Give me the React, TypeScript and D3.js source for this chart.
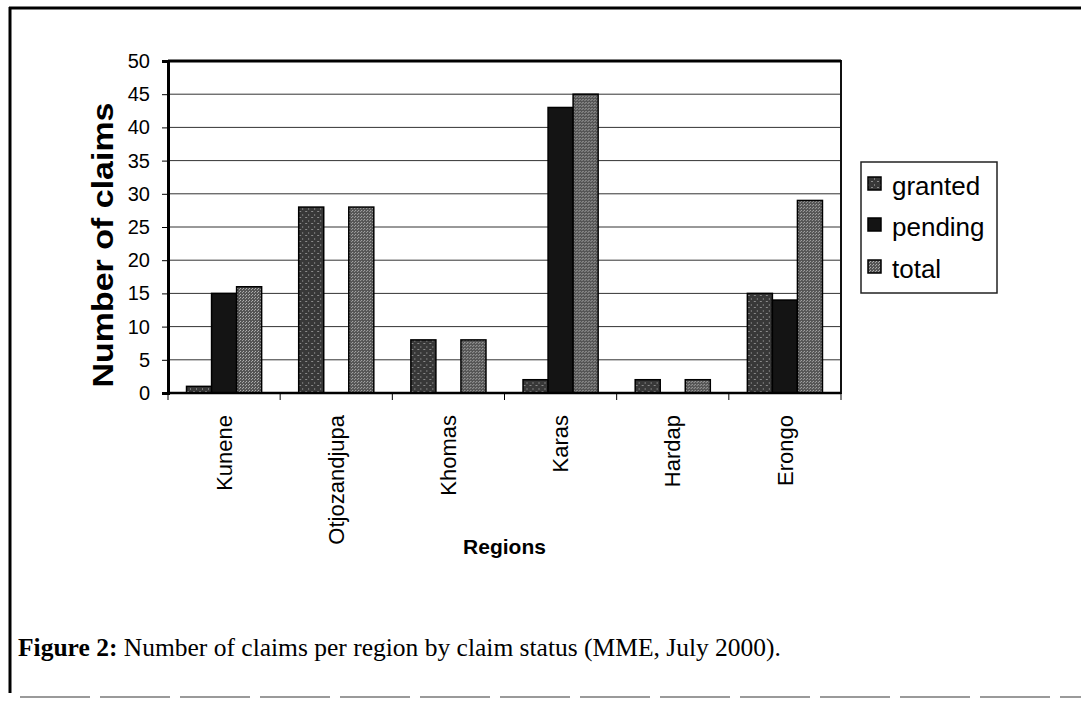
import React, { useRef, useEffect } from 'react';
import * as d3 from 'd3';

const regions = ['Kunene', 'Otjozandjupa', 'Khomas', 'Karas', 'Hardap', 'Erongo'];
const seriesNames = ['granted', 'pending', 'total'];
const granted = [1, 28, 8, 2, 2, 15];
const pending = [15, 0, 0, 43, 0, 14];
const total = [16, 28, 8, 45, 2, 29];
const yTicks = [0, 5, 10, 15, 20, 25, 30, 35, 40, 45, 50];

const SANS = '"Liberation Sans", Arial, sans-serif';
const SERIF = '"Liberation Serif", "Times New Roman", serif';

export default function App() {
  const svgRef = useRef<SVGSVGElement>(null);
  const width = 1081;
  const height = 703;
  const plot = { left: 168, right: 841, top: 61, bottom: 393 };

  useEffect(() => {
    const svg = d3.select(svgRef.current);
    svg.selectAll('*').remove();

    // fill patterns that imitate the scanned hatching
    const defs = svg.append('defs');
    const pg = defs.append('pattern').attr('id', 'pat-granted')
      .attr('width', 6).attr('height', 6).attr('patternUnits', 'userSpaceOnUse');
    pg.append('rect').attr('width', 6).attr('height', 6).attr('fill', '#383838');
    pg.append('rect').attr('x', 1).attr('y', 1).attr('width', 2).attr('height', 1).attr('fill', '#8a8a8a');
    pg.append('rect').attr('x', 4).attr('y', 4).attr('width', 1).attr('height', 2).attr('fill', '#777');

    const pt = defs.append('pattern').attr('id', 'pat-total')
      .attr('width', 3).attr('height', 3).attr('patternUnits', 'userSpaceOnUse');
    pt.append('rect').attr('width', 3).attr('height', 3).attr('fill', '#555');
    pt.append('rect').attr('x', 0).attr('y', 0).attr('width', 1).attr('height', 1).attr('fill', '#b0b0b0');
    pt.append('rect').attr('x', 2).attr('y', 1).attr('width', 1).attr('height', 1).attr('fill', '#a0a0a0');

    const fills: Record<string, string> = {
      granted: 'url(#pat-granted)',
      pending: '#141414',
      total: 'url(#pat-total)',
    };

    // page frame
    svg.append('line').attr('x1', 9).attr('x2', width).attr('y1', 8).attr('y2', 8)
      .attr('stroke', '#000').attr('stroke-width', 3);
    svg.append('line').attr('x1', 10).attr('x2', 10).attr('y1', 7).attr('y2', 693)
      .attr('stroke', '#000').attr('stroke-width', 3);
    svg.append('line').attr('x1', 20).attr('x2', width).attr('y1', 697).attr('y2', 697)
      .attr('stroke', '#9a9a9a').attr('stroke-width', 2).attr('stroke-dasharray', '70 10');

    const x0 = d3.scaleBand().domain(regions).range([plot.left, plot.right]);
    const x1 = d3.scaleBand().domain(seriesNames).range([0, x0.bandwidth()]).paddingOuter(0.74);
    const y = d3.scaleLinear().domain([0, 50]).range([plot.bottom, plot.top]);

    // gridlines
    svg.append('g').selectAll('line').data(yTicks.slice(1)).join('line')
      .attr('x1', plot.left).attr('x2', plot.right)
      .attr('y1', d => y(d)).attr('y2', d => y(d))
      .attr('stroke', '#333').attr('stroke-width', 1);

    // plot border
    svg.append('rect').attr('x', plot.left).attr('y', plot.top)
      .attr('width', plot.right - plot.left).attr('height', plot.bottom - plot.top)
      .attr('fill', 'none').attr('stroke', '#111').attr('stroke-width', 2);
    svg.append('line').attr('x1', plot.left).attr('x2', plot.right)
      .attr('y1', plot.top).attr('y2', plot.top).attr('stroke', '#000').attr('stroke-width', 3);

    // bars
    const rows = regions.map((r, i) => ({
      region: r,
      values: [
        { key: 'granted', value: granted[i] },
        { key: 'pending', value: pending[i] },
        { key: 'total', value: total[i] },
      ],
    }));

    svg.append('g').selectAll('g').data(rows).join('g')
      .attr('transform', d => `translate(${x0(d.region)},0)`)
      .selectAll('rect').data(d => d.values.filter(v => v.value > 0)).join('rect')
      .attr('x', d => x1(d.key) as number)
      .attr('width', x1.bandwidth())
      .attr('y', d => y(d.value))
      .attr('height', d => y(0) - y(d.value))
      .attr('fill', d => fills[d.key])
      .attr('stroke', '#000').attr('stroke-width', 1.5);

    // y axis
    svg.append('g')
      .attr('transform', `translate(${plot.left},0)`)
      .call(d3.axisLeft(y).tickValues(yTicks).tickSize(6).tickPadding(12))
      .call(g => g.select('.domain').attr('stroke', '#000').attr('stroke-width', 3))
      .call(g => g.selectAll('.tick line').attr('stroke', '#000'))
      .call(g => g.selectAll('.tick text')
        .attr('font-size', 20).attr('font-family', SANS).attr('fill', '#000'));

    // x axis
    svg.append('line').attr('x1', plot.left).attr('x2', plot.right)
      .attr('y1', plot.bottom).attr('y2', plot.bottom).attr('stroke', '#000').attr('stroke-width', 2.5);
    const boundaries = regions.map(r => x0(r) as number).concat([plot.right]);
    svg.append('g').selectAll('line').data(boundaries).join('line')
      .attr('x1', d => d).attr('x2', d => d)
      .attr('y1', plot.bottom).attr('y2', plot.bottom + 7)
      .attr('stroke', '#000').attr('stroke-width', 1);

    svg.append('g').selectAll('text').data(regions).join('text')
      .attr('transform', d => `translate(${(x0(d) as number) + x0.bandwidth() / 2},415) rotate(-90)`)
      .attr('text-anchor', 'end')
      .attr('dy', '0.35em')
      .attr('font-size', 22)
      .attr('font-family', SANS)
      .attr('fill', '#000')
      .text(d => d);

    // axis titles
    svg.append('text')
      .attr('x', (plot.left + plot.right) / 2).attr('y', 554)
      .attr('text-anchor', 'middle')
      .attr('font-size', 21).attr('font-weight', 'bold').attr('font-family', SANS)
      .text('Regions');

    svg.append('text')
      .attr('transform', 'translate(113,245) rotate(-90)')
      .attr('text-anchor', 'middle')
      .attr('font-size', 30).attr('font-weight', 'bold').attr('font-family', SANS)
      .attr('textLength', 285).attr('lengthAdjust', 'spacingAndGlyphs')
      .text('Number of claims');

    // legend
    const legend = svg.append('g');
    legend.append('rect').attr('x', 861).attr('y', 162).attr('width', 136).attr('height', 131)
      .attr('fill', '#fff').attr('stroke', '#222').attr('stroke-width', 1.5);
    const baselines = [195, 236, 278];
    seriesNames.forEach((s, i) => {
      legend.append('rect').attr('x', 868).attr('y', baselines[i] - 18).attr('width', 13).attr('height', 13)
        .attr('fill', fills[s]).attr('stroke', '#000').attr('stroke-width', 1.5);
      legend.append('text').attr('x', 892).attr('y', baselines[i])
        .attr('font-size', 26).attr('font-family', SANS).attr('fill', '#000')
        .text(s);
    });

    // caption
    const cap = svg.append('text').attr('x', 18).attr('y', 656)
      .attr('font-size', 25.5).attr('font-family', SERIF).attr('fill', '#000');
    cap.append('tspan').attr('font-weight', 'bold').text('Figure 2:');
    cap.append('tspan').text(' Number of claims per region by claim status (MME, July 2000).');
  }, []);

  return (
    <svg
      ref={svgRef}
      width={width}
      height={height}
      style={{ position: 'absolute', left: 0, top: 0, background: '#fff' }}
    />
  );
}
